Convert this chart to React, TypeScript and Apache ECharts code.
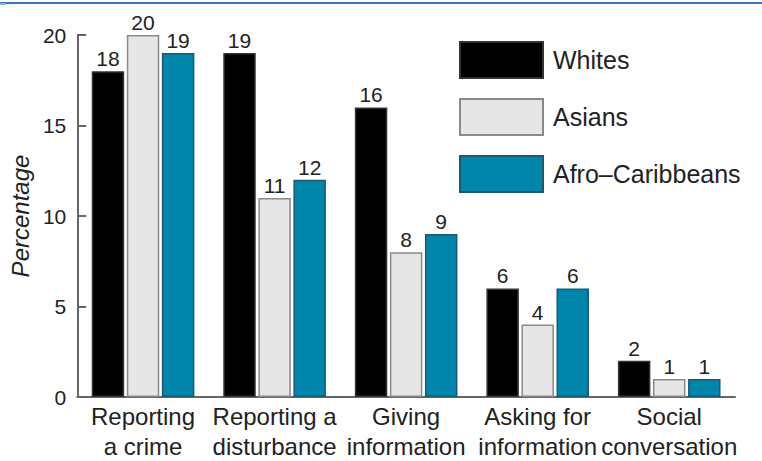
import React, { useEffect, useRef } from "react";
import * as echarts from "echarts";

const categories = [
  "Reporting\na crime",
  "Reporting a\ndisturbance",
  "Giving\ninformation",
  "Asking for\ninformation",
  "Social\nconversation",
];
const whites = [18, 19, 16, 6, 2];
const asians = [20, 11, 8, 4, 1];
const afroCaribbeans = [19, 12, 9, 6, 1];
const yTicks = { min: 0, max: 20, interval: 5 };

const FONT = "Liberation Sans, Arial, Helvetica, sans-serif";

export default function App() {
  const ref = useRef<HTMLDivElement>(null);
  useEffect(() => {
    if (!ref.current) return;
    const chart = echarts.init(ref.current, null, { renderer: "svg" });
    const label = {
      show: true,
      position: "top" as const,
      distance: 2,
      fontSize: 21,
      color: "#222",
      fontFamily: FONT,
    };
    const mk = (name: string, data: number[], fill: string, border: string) => ({
      name,
      type: "bar" as const,
      data,
      barGap: "8%",
      barCategoryGap: "22%",
      itemStyle: { color: fill, borderColor: border, borderWidth: 1.5 },
      label,
    });
    chart.setOption({
      animation: false,
      textStyle: { fontFamily: FONT },
      grid: { left: 69, right: 27, top: 35, bottom: 63, containLabel: false },
      legend: {
        orient: "vertical",
        left: 459,
        top: 41,
        padding: 0,
        itemWidth: 83,
        itemHeight: 36,
        itemGap: 19,
        icon: "rect",
        textStyle: { fontSize: 25, color: "#222", fontFamily: FONT, padding: [0, 0, 0, 5] },
        data: ["Whites", "Asians", "Afro\u2013Caribbeans"],
      },
      xAxis: {
        type: "category",
        data: categories,
        axisLine: { lineStyle: { color: "#666", width: 2 } },
        axisTick: { inside: true, length: 8, lineStyle: { color: "#666", width: 2 } },
        axisLabel: {
          fontSize: 24,
          color: "#222",
          margin: 4,
          lineHeight: 30,
          fontFamily: FONT,
          interval: 0,
        },
      },
      yAxis: {
        type: "value",
        min: yTicks.min,
        max: yTicks.max,
        interval: yTicks.interval,
        name: "Percentage",
        nameLocation: "middle",
        nameRotate: 90,
        nameGap: 37,
        nameTextStyle: { fontSize: 24, fontStyle: "italic", color: "#222", fontFamily: FONT },
        splitLine: { show: false },
        axisLine: { show: true, lineStyle: { color: "#666", width: 2 } },
        axisTick: { show: true, inside: true, length: 9, lineStyle: { color: "#666", width: 2 } },
        axisLabel: { fontSize: 21, color: "#222", margin: 11, fontFamily: FONT, padding: [8, 0, 0, 0] },
      },
      graphic: [
        {
          type: "line",
          shape: { x1: 0, y1: 3, x2: 762, y2: 3 },
          style: { stroke: "#3a76b0", lineWidth: 2 },
        },
        {
          type: "rect",
          shape: { x: 0, y: 3, width: 6, height: 2 },
          style: { fill: "#8ab4dd" },
        },
      ],
      series: [
        mk("Whites", whites, "#000000", "#333333"),
        mk("Asians", asians, "#e6e6e6", "#8a8a8a"),
        mk("Afro\u2013Caribbeans", afroCaribbeans, "#0085ab", "#1a5a70"),
      ],
    });
    return () => chart.dispose();
  }, []);
  return (
    <div
      ref={ref}
      style={{ position: "fixed", left: 0, top: 0, width: 762, height: 461, background: "#fff" }}
    />
  );
}
